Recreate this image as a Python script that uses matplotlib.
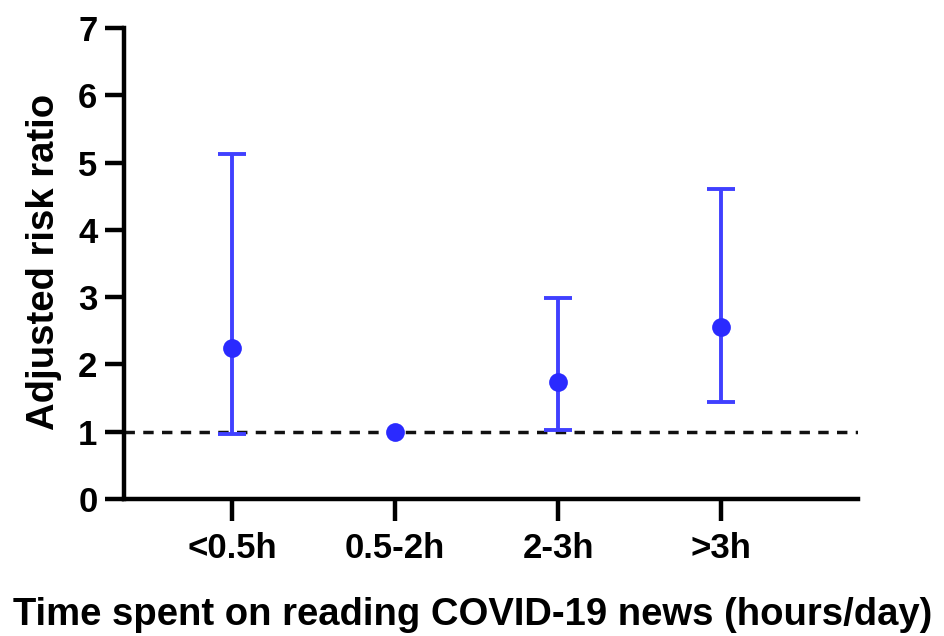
import matplotlib
matplotlib.use("Agg")
import matplotlib.pyplot as plt
import numpy as np

categories = ["<0.5h", "0.5-2h", "2-3h", ">3h"]
risk_ratio = [2.24, 1.00, 1.74, 2.56]
ci_lower = [0.97, 1.00, 1.03, 1.44]
ci_upper = [5.13, 1.00, 2.99, 4.61]
y_ticks = [0, 1, 2, 3, 4, 5, 6, 7]

plt.rcParams['font.family'] = ['Liberation Sans', 'DejaVu Sans']
plt.rcParams['font.weight'] = 'bold'

fig = plt.figure(figsize=(9.45, 6.36), dpi=100)
ax = fig.add_axes([0.131, 0.2154, 0.777, 0.7406])

x = np.arange(len(categories))
rr = np.array(risk_ratio)
lo = np.array(ci_lower)
hi = np.array(ci_upper)
blue = '#4040ff'

ax.axhline(1, color='#111111', lw=2.5, ls=(0, (3.0, 2.4)), zorder=1)

has_ci = hi > lo
ax.errorbar(x[has_ci], rr[has_ci], yerr=[rr[has_ci] - lo[has_ci], hi[has_ci] - rr[has_ci]],
            fmt='none', ecolor=blue, elinewidth=2.8, capsize=10, capthick=2.8, zorder=2)
ax.plot(x, rr, 'o', color='#2a2aff', markersize=13.5, zorder=3, markeredgewidth=0)

ax.set_xlim(-0.663, 3.84)
ax.set_ylim(0, 7)
ax.set_xticks(x)
ax.set_xticklabels(categories)
ax.set_yticks(y_ticks)

for s in ['top', 'right']:
    ax.spines[s].set_visible(False)
for s in ['left', 'bottom']:
    ax.spines[s].set_linewidth(3.2)
ax.tick_params(axis='both', width=3.2, length=14, labelsize=25, pad=5)
ax.tick_params(axis='x', length=16, pad=8)
for lab in ax.get_xticklabels() + ax.get_yticklabels():
    lab.set_fontweight('bold')

fig.text(0.047, 0.588, "Adjusted risk ratio", rotation=90, ha='center', va='center',
         fontsize=27.5, fontweight='bold')
fig.text(0.5, 0.0175, "Time spent on reading COVID-19 news (hours/day)", ha='center', va='baseline',
         fontsize=27.5, fontweight='bold')

fig.savefig("out.png", dpi=100)
